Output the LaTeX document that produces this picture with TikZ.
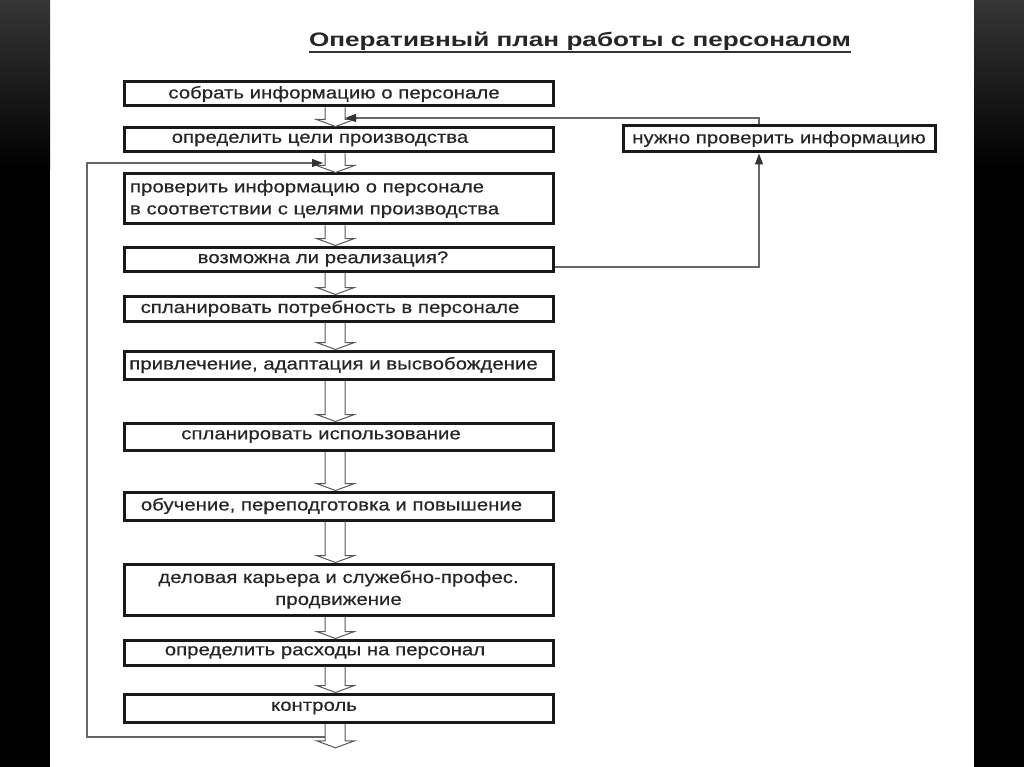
\documentclass[tikz,border=0pt]{standalone}
\usepackage{fontspec}
\setmainfont{Liberation Sans}
\newfontfamily\boxfont[FakeStretch=1.2,FakeBold=0.4]{Liberation Sans}
\newfontfamily\titlefont[FakeStretch=1.34]{Liberation Sans}
\usetikzlibrary{arrows.meta,calc}
\newcommand\shl[2]{\hspace*{-#1}#2}
\newcommand\blockarrow[2]{%
  \draw[shaft] ([xshift=-13.5pt]#1.south) -- ([xshift=-13.5pt,yshift=7pt]#2.north)
    -- ([xshift=-22pt,yshift=7pt]#2.north) -- ([xshift=-3pt]#2.north)
    -- ([xshift=16pt,yshift=7pt]#2.north) -- ([xshift=6.5pt,yshift=7pt]#2.north)
    -- ([xshift=6.5pt]#1.south);}
\begin{document}
\begin{tikzpicture}[x=1pt,y=-1pt,
  box/.style={draw=black!90, line width=3pt, minimum width=429pt, inner sep=0pt,
    font=\boxfont\fontsize{17}{22}\selectfont, text=black!85},
  shaft/.style={draw=black!65, line width=1pt},
  fb/.style={draw=black!60, line width=1.2pt},
  tipend/.style={-{Triangle[length=11pt,width=8pt,color=black!80]}}]
\useasboundingbox (0,0) rectangle (1024,767);
\fill[white] (0,0) rectangle (1024,767);
% dark side borders
\shade[top color=black!79, bottom color=black] (0,0) rectangle (50,170);
\fill[black] (0,169) rectangle (50,767);
\shade[top color=black!79, bottom color=black] (974,0) rectangle (1024,170);
\fill[black] (974,169) rectangle (1024,767);
% title
\node[anchor=base, inner sep=0pt, text=black!85] (title) at (580,47)
  {\titlefont\bfseries\fontsize{19.5}{22}\selectfont Оперативный план работы с персоналом};
\draw[line width=1.8pt, black!80] ([yshift=-5pt]title.base west) -- ([yshift=-5pt]title.base east);
% boxes
\node[box, minimum height=24pt] (b1) at (338.5,94) {\shl{9pt}{собрать информацию о персонале}};
\node[box, minimum height=24pt] (b2) at (338.5,140) {\shl{37pt}{определить цели производства}};
\node[box, minimum height=50pt, text width=417pt, align=left] (b3) at (338.5,199)
  {проверить информацию о персонале\\в соответствии с целями производства};
\node[box, minimum height=24pt] (b4) at (338.5,259) {\shl{31pt}{возможна ли реализация?}};
\node[box, minimum height=25pt] (b5) at (338.5,308.5) {\shl{17pt}{спланировать потребность в персонале}};
\node[box, minimum height=28pt] (b6) at (338.5,365) {\shl{10pt}{привлечение, адаптация и высвобождение}};
\node[box, minimum height=27pt] (b7) at (338.5,436.5) {\shl{35pt}{спланировать использование}};
\node[box, minimum height=28pt] (b8) at (338.5,506) {\shl{14pt}{обучение, переподготовка и повышение}};
\node[box, minimum height=51pt, align=center] (b9) at (338.5,589.5)
  {деловая карьера и служебно-профес.\\продвижение};
\node[box, minimum height=25pt] (b10) at (338.5,652.5) {\shl{27pt}{определить расходы на персонал}};
\node[box, minimum height=28pt] (b11) at (338.5,708) {\shl{49pt}{контроль}};
\node[box, minimum width=312pt, minimum height=26pt] (side) at (779,139) {нужно проверить информацию};
\node[inner sep=0pt, minimum size=0pt] (bend) at (338.5,748) {};
% block arrows
\blockarrow{b1}{b2}
\blockarrow{b2}{b3}
\blockarrow{b3}{b4}
\blockarrow{b4}{b5}
\blockarrow{b5}{b6}
\blockarrow{b6}{b7}
\blockarrow{b7}{b8}
\blockarrow{b8}{b9}
\blockarrow{b9}{b10}
\blockarrow{b10}{b11}
\blockarrow{b11}{bend}
% feedback loops
\coordinate (rtip) at (345,118);
\coordinate (ltip) at (323,163);
\coordinate (lp) at (325,737);
\draw[fb, tipend] ([yshift=-8pt]b4.east) -| ([xshift=-20pt]side.south);
\draw[fb, tipend] ([xshift=-20pt]side.north) |- (rtip);
\draw[fb, tipend] (lp) -- (87,737) -- (87,163) -- (ltip);
\end{tikzpicture}
\end{document}
